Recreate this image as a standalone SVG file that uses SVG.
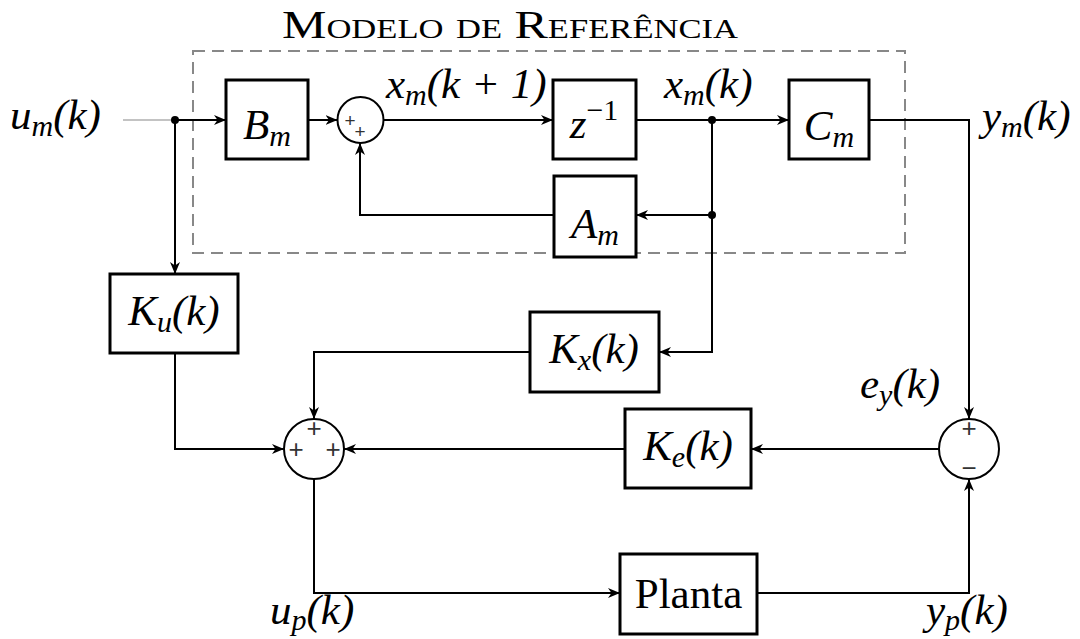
<svg xmlns="http://www.w3.org/2000/svg" width="1080" height="639" viewBox="0 0 1080 639">
<style>
.box{fill:#fff;stroke:#000;stroke-width:3}
.sum{fill:#fff;stroke:#000;stroke-width:2}
.ln{fill:none;stroke:#000;stroke-width:2}
.m{font-family:"Liberation Serif","DejaVu Serif",serif;font-style:italic;font-size:43px;fill:#000}
.r{font-style:normal}
.s{font-size:30px}
.sg{font-family:"Liberation Sans","DejaVu Sans",sans-serif;font-size:26px;fill:#333}
.sg1{font-family:"Liberation Sans","DejaVu Sans",sans-serif;font-size:19px;fill:#333}
.ttl{font-family:"Liberation Serif","DejaVu Serif",serif;font-size:39px;font-variant:small-caps;fill:#000}
</style>
<defs>
<marker id="ah" viewBox="0 0 12 10" refX="12" refY="5" markerWidth="12" markerHeight="10" orient="auto" markerUnits="userSpaceOnUse">
<path d="M0,0 L12,5 L0,10 L3.5,5 z" fill="#000"/>
</marker>
</defs>
<rect id="refbox" x="193" y="51" width="712" height="202" fill="none" stroke="#888" stroke-width="2" stroke-dasharray="12,7"/>
<text class="ttl" x="282" y="38" textLength="456" lengthAdjust="spacingAndGlyphs">Modelo de Referência</text>
<g id="connectors">
<path d="M123,120 H175" fill="none" stroke="#888" stroke-width="1.2"/>
<path class="ln" d="M175,120 H226" marker-end="url(#ah)"/>
<path class="ln" d="M308,120 H337.5" marker-end="url(#ah)"/>
<path class="ln" d="M383.5,120 H553" marker-end="url(#ah)"/>
<path class="ln" d="M636,120 H789" marker-end="url(#ah)"/>
<path class="ln" d="M869,120 H969 V419" marker-end="url(#ah)"/>
<path class="ln" d="M712,120 V352 H659" marker-end="url(#ah)"/>
<path class="ln" d="M712,215 H636" marker-end="url(#ah)"/>
<path class="ln" d="M554,215 H360 V143" marker-end="url(#ah)"/>
<path class="ln" d="M175,120 V274" marker-end="url(#ah)"/>
<path class="ln" d="M175,353 V449 H284" marker-end="url(#ah)"/>
<path class="ln" d="M530,352 H314 V419" marker-end="url(#ah)"/>
<path class="ln" d="M939,449 H751" marker-end="url(#ah)"/>
<path class="ln" d="M625,449 H344" marker-end="url(#ah)"/>
<path class="ln" d="M314,479 V593 H620" marker-end="url(#ah)"/>
<path class="ln" d="M757,593 H969 V479" marker-end="url(#ah)"/>
<circle cx="175" cy="120" r="4"/>
<circle cx="712" cy="120" r="4"/>
<circle cx="712" cy="215" r="4"/>
</g>
<g id="Bm"><rect class="box" x="226" y="80" width="82" height="79"/><text class="m" x="267" y="139" text-anchor="middle">B<tspan class="s" dy="7">m</tspan></text></g>
<g id="sum1"><circle class="sum" cx="360.5" cy="120" r="23"/><text class="sg1" x="350" y="127" text-anchor="middle">+</text><text class="sg1" x="360" y="137.5" text-anchor="middle">+</text></g>
<g id="zinv"><rect class="box" x="553" y="80" width="83" height="79"/><text class="m" x="594" y="138" text-anchor="middle">z<tspan class="r s" dy="-18">−1</tspan></text></g>
<g id="Cm"><rect class="box" x="789" y="80" width="80" height="79"/><text class="m" x="829" y="140" text-anchor="middle">C<tspan class="s" dy="7">m</tspan></text></g>
<g id="Am"><rect class="box" x="554" y="176" width="82" height="81"/><text class="m" x="595" y="238" text-anchor="middle">A<tspan class="s" dy="7">m</tspan></text></g>
<g id="Ku"><rect class="box" x="110" y="274" width="128" height="79"/><text class="m" x="174" y="325" text-anchor="middle">K<tspan class="s" dy="7">u</tspan><tspan dy="-7">(k)</tspan></text></g>
<g id="Kx"><rect class="box" x="530" y="312" width="129" height="80"/><text class="m" x="594" y="363" text-anchor="middle">K<tspan class="s" dy="7">x</tspan><tspan dy="-7">(k)</tspan></text></g>
<g id="Ke"><rect class="box" x="625" y="409" width="126" height="79"/><text class="m" x="688" y="460" text-anchor="middle">K<tspan class="s" dy="7">e</tspan><tspan dy="-7">(k)</tspan></text></g>
<g id="Planta"><rect class="box" x="620" y="554" width="137" height="80"/><text class="m r" x="688.5" y="608" text-anchor="middle">Planta</text></g>
<g id="sum2"><circle class="sum" cx="314" cy="449" r="30"/><text class="sg" x="314" y="437" text-anchor="middle">+</text><text class="sg" x="296" y="458" text-anchor="middle">+</text><text class="sg" x="333" y="458" text-anchor="middle">+</text></g>
<g id="sum3"><circle class="sum" cx="969" cy="449" r="30"/><text class="sg" x="969" y="437" text-anchor="middle">+</text><text class="sg" x="969" y="477" text-anchor="middle">−</text></g>
<g id="labels">
<text class="m" x="10" y="129">u<tspan class="s" dy="7">m</tspan><tspan dy="-7">(k)</tspan></text>
<text class="m" x="386" y="98">x<tspan class="s" dy="7">m</tspan><tspan dy="-7">(k + 1)</tspan></text>
<text class="m" x="664" y="98">x<tspan class="s" dy="7">m</tspan><tspan dy="-7">(k)</tspan></text>
<text class="m" x="982" y="130">y<tspan class="s" dy="7">m</tspan><tspan dy="-7">(k)</tspan></text>
<text class="m" x="860" y="398">e<tspan class="s" dy="7">y</tspan><tspan dy="-7">(k)</tspan></text>
<text class="m" x="270" y="624">u<tspan class="s" dy="6">p</tspan><tspan dy="-6">(k)</tspan></text>
<text class="m" x="926" y="624">y<tspan class="s" dy="6">p</tspan><tspan dy="-6">(k)</tspan></text>
</g>
</svg>
